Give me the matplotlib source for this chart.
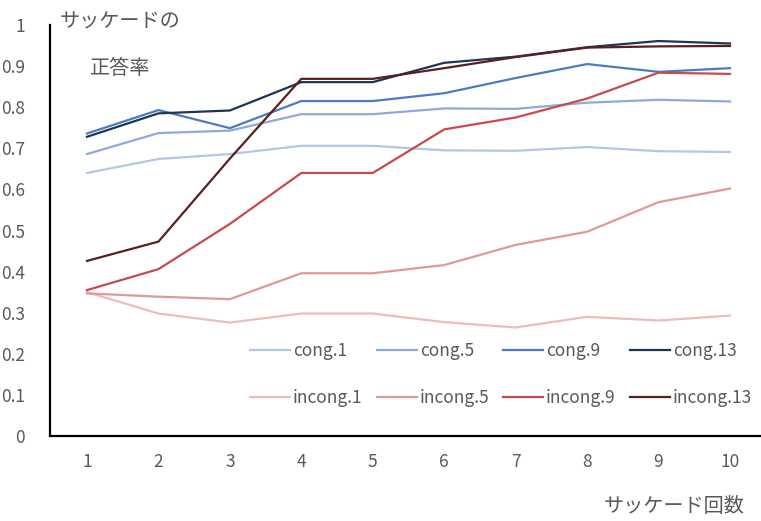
import matplotlib
matplotlib.use("Agg")
import matplotlib.pyplot as plt
from matplotlib.legend import Legend

plt.rcParams['font.family'] = ['Noto Sans CJK JP', 'DejaVu Sans']

saccades = [1, 2, 3, 4, 5, 6, 7, 8, 9, 10]

cong_1 = [0.640, 0.674, 0.686, 0.706, 0.706, 0.695, 0.694, 0.703, 0.693, 0.691]
cong_5 = [0.686, 0.737, 0.743, 0.783, 0.783, 0.797, 0.796, 0.811, 0.818, 0.814]
cong_9 = [0.736, 0.793, 0.749, 0.815, 0.815, 0.834, 0.871, 0.905, 0.886, 0.895]
cong_13 = [0.728, 0.785, 0.792, 0.861, 0.861, 0.908, 0.923, 0.946, 0.961, 0.955]

incong_1 = [0.350, 0.298, 0.276, 0.298, 0.298, 0.277, 0.264, 0.290, 0.281, 0.293]
incong_5 = [0.347, 0.339, 0.333, 0.396, 0.396, 0.416, 0.465, 0.497, 0.569, 0.602]
incong_9 = [0.355, 0.406, 0.516, 0.640, 0.640, 0.746, 0.775, 0.821, 0.884, 0.881]
incong_13 = [0.426, 0.473, 0.675, 0.869, 0.869, 0.895, 0.922, 0.945, 0.948, 0.949]

cong_series = [
    ("cong.1", cong_1, "#b4c7e7"),
    ("cong.5", cong_5, "#8eaadb"),
    ("cong.9", cong_9, "#4a7cc4"),
    ("cong.13", cong_13, "#1f3555"),
]
incong_series = [
    ("incong.1", incong_1, "#eebcbc"),
    ("incong.5", incong_5, "#e09898"),
    ("incong.9", incong_9, "#c94a4a"),
    ("incong.13", incong_13, "#5a1f1f"),
]

text_color = "#595959"

fig = plt.figure(figsize=(7.61, 5.21), dpi=100)
ax = fig.add_axes([50 / 761, 85 / 521, 711 / 761, 411 / 521])

cong_lines = []
for name, vals, col in cong_series:
    ln, = ax.plot(saccades, vals, color=col, lw=1.6, label=name)
    cong_lines.append(ln)
incong_lines = []
for name, vals, col in incong_series:
    ln, = ax.plot(saccades, vals, color=col, lw=1.6, label=name)
    incong_lines.append(ln)

ax.set_xlim(0.482, 10.434)
ax.set_ylim(0, 1)
ax.set_yticks([i / 10 for i in range(11)])
ax.set_yticklabels(["0", "0.1", "0.2", "0.3", "0.4", "0.5", "0.6", "0.7", "0.8", "0.9", "1"])
ax.set_xticks(saccades)
ax.set_xticklabels([str(s) for s in saccades])
ax.tick_params(axis="both", length=0, labelsize=12.5, colors=text_color)
ax.tick_params(axis="y", pad=18)
ax.tick_params(axis="x", pad=12)

for side in ("top", "right"):
    ax.spines[side].set_visible(False)
for side in ("left", "bottom"):
    ax.spines[side].set_linewidth(1.6)
    ax.spines[side].set_color("black")

# legend laid out as a 2x4 grid: one small legend per column
col_x = [0.281, 0.460, 0.637, 0.816]
for i, x in enumerate(col_x):
    handles = [cong_lines[i], incong_lines[i]]
    labels = [cong_series[i][0], incong_series[i][0]]
    leg = Legend(ax, handles, labels, loc="center left", bbox_to_anchor=(x, 0.1496),
                 frameon=False, fontsize=12.5, handlelength=2.3,
                 handletextpad=0.17, labelspacing=1.68,
                 borderpad=0, borderaxespad=0)
    for t in leg.get_texts():
        t.set_color(text_color)
    ax.add_artist(leg)

fig.text(60 / 761, 1 - 22 / 521, "サッケードの", fontsize=14.5, color=text_color,
         ha="left", va="center")
fig.text(90 / 761, 1 - 68 / 521, "正答率", fontsize=14.5, color=text_color,
         ha="left", va="center")
fig.text(745 / 761, 1 - 507 / 521, "サッケード回数", fontsize=14.5, color=text_color,
         ha="right", va="center")

fig.savefig("out.png", dpi=100)
